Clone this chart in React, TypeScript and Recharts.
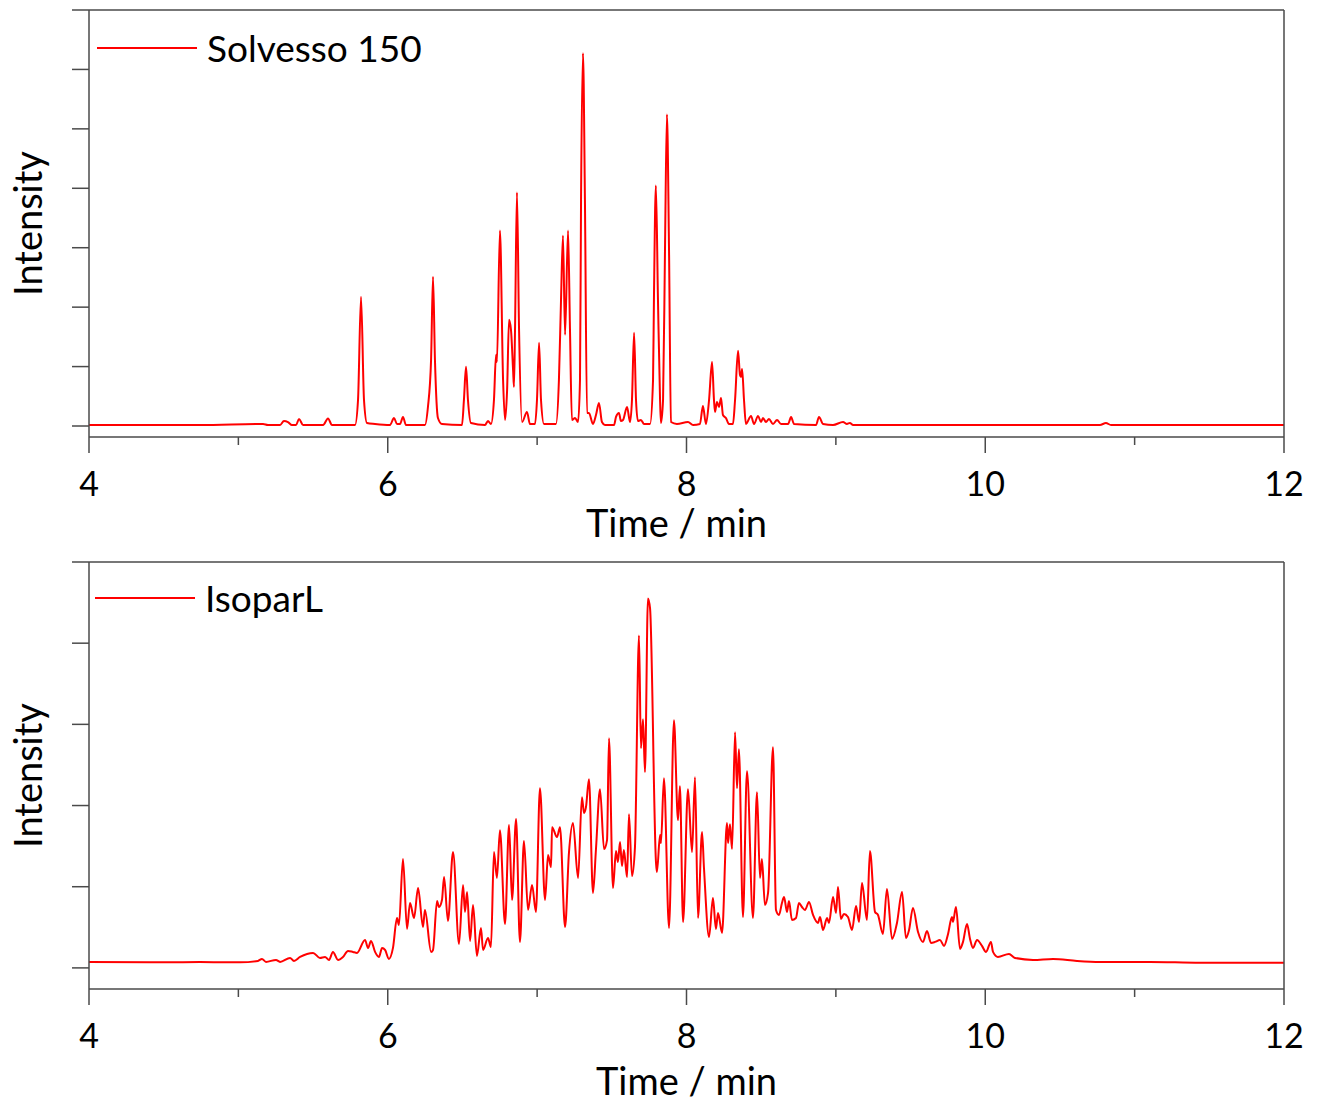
import React from 'react';
import { LineChart, Line, XAxis, YAxis, Legend } from 'recharts';

// ---- Data ----
const xTicks = [4, 5, 6, 7, 8, 9, 10, 11, 12];
const solvessoYTicks = [0, 1, 2, 3, 4, 5, 6, 7];
const isoparYTicks = [0, 1, 2, 3, 4, 5];

const solvessoTime = [
  4.0, 4.743, 5.165, 5.198, 5.279, 5.305, 5.332, 5.359, 5.386, 5.406, 5.433, 5.567, 5.6, 5.627,
  5.781, 5.801, 5.821, 5.841, 5.861, 5.915, 6.015, 6.042, 6.062, 6.082, 6.102, 6.122,
  6.249, 6.269, 6.29, 6.303, 6.316, 6.336, 6.363, 6.497, 6.51, 6.524, 6.537, 6.557,
  6.651, 6.671, 6.691, 6.711, 6.725, 6.731, 6.751, 6.772, 6.785, 6.799, 6.812, 6.825, 6.839, 6.845,
  6.852, 6.865, 6.879, 6.899, 6.932, 6.952, 6.986, 6.999, 7.013, 7.026, 7.046,
  7.126, 7.146, 7.16, 7.173, 7.187, 7.207, 7.22, 7.233, 7.254, 7.274, 7.287, 7.294, 7.307, 7.32,
  7.334, 7.347, 7.374, 7.394, 7.414, 7.434, 7.454, 7.515, 7.528, 7.548, 7.561, 7.575, 7.602, 7.622,
  7.635, 7.649, 7.662, 7.675, 7.695, 7.716, 7.756, 7.776, 7.782, 7.795, 7.809, 7.823, 7.829,
  7.843, 7.856, 7.869, 7.883, 7.896, 7.936, 8.01, 8.044, 8.09, 8.11, 8.13, 8.151, 8.171, 8.184,
  8.191, 8.204, 8.218, 8.231, 8.244, 8.264, 8.284, 8.311, 8.325, 8.345, 8.358, 8.365, 8.372, 8.385,
  8.398, 8.432, 8.452, 8.479, 8.499, 8.512, 8.532, 8.552, 8.579, 8.606, 8.633, 8.68, 8.7, 8.72,
  8.867, 8.887, 8.914, 8.981, 9.048, 9.074, 9.094, 9.115, 10.768, 10.808, 10.842, 12.0,
];
const solvessoIntensity = [
  0.017, 0.017, 0.034, 0.017, 0.017, 0.084, 0.067, 0.017, 0.017, 0.118, 0.017, 0.017, 0.126, 0.017,
  0.017, 0.438, 2.175, 0.438, 0.051, 0.034, 0.017, 0.135, 0.034, 0.034, 0.152, 0.017,
  0.017, 0.32, 1.113, 2.512, 1.113, 0.135, 0.034, 0.017, 0.438, 0.995, 0.438, 0.051,
  0.017, 0.084, 0.034, 0.438, 1.197, 1.079, 3.288, 0.776, 0.101, 0.607, 1.787, 1.619, 0.944, 0.658,
  1.619, 3.928, 1.619, 0.067, 0.236, 0.034, 0.034, 0.438, 1.399, 0.438, 0.034,
  0.034, 0.776, 2.124, 3.203, 1.534, 3.288, 1.619, 0.101, 0.135, 0.067, 0.776, 3.81, 6.272, 3.81,
  0.219, 0.219, 0.034, 0.185, 0.388, 0.067, 0.017, 0.017, 0.152, 0.219, 0.084, 0.101, 0.32, 0.067,
  0.438, 1.568, 0.438, 0.084, 0.101, 0.034, 0.034, 0.776, 2.124, 4.046, 2.124, 0.438, 0.051,
  0.438, 2.967, 5.243, 2.967, 0.067, 0.034, 0.067, 0.017, 0.034, 0.337, 0.034, 0.438, 1.079, 0.438,
  0.236, 0.405, 0.32, 0.472, 0.185, 0.135, 0.034, 0.034, 0.438, 1.265, 0.86, 0.826, 0.961, 0.438,
  0.034, 0.169, 0.034, 0.169, 0.067, 0.135, 0.067, 0.118, 0.034, 0.101, 0.034, 0.034, 0.152, 0.034,
  0.017, 0.152, 0.034, 0.017, 0.067, 0.034, 0.051, 0.017, 0.017, 0.051, 0.017, 0.017,
];

const isoparTime = [
  4.0, 4.408, 4.743, 5.011, 5.131, 5.158, 5.185, 5.252, 5.279, 5.346, 5.372, 5.413, 5.5, 5.546,
  5.58, 5.607, 5.633, 5.667, 5.7, 5.734, 5.767, 5.794, 5.848, 5.868, 5.888, 5.915, 5.941, 5.962,
  5.982, 6.008, 6.035, 6.062, 6.075, 6.102, 6.129, 6.149, 6.176, 6.203, 6.236, 6.249, 6.29, 6.303,
  6.33, 6.343, 6.363, 6.377, 6.403, 6.437, 6.477, 6.504, 6.517, 6.531, 6.551, 6.571, 6.597, 6.624,
  6.638, 6.671, 6.691, 6.711, 6.731, 6.751, 6.785, 6.812, 6.832, 6.859, 6.885, 6.912, 6.939, 6.966,
  6.992, 7.019, 7.053, 7.073, 7.093, 7.1, 7.133, 7.153, 7.187, 7.213, 7.24, 7.274, 7.3, 7.314,
  7.327, 7.347, 7.374, 7.394, 7.421, 7.448, 7.468, 7.481, 7.508, 7.528, 7.541, 7.555, 7.568, 7.581,
  7.602, 7.615, 7.635, 7.655, 7.682, 7.695, 7.709, 7.722, 7.742, 7.756, 7.796, 7.802, 7.823, 7.829,
  7.849, 7.883, 7.916, 7.943, 7.956, 7.977, 8.01, 8.037, 8.057, 8.077, 8.104, 8.117, 8.151, 8.177,
  8.197, 8.211, 8.238, 8.271, 8.278, 8.291, 8.305, 8.325, 8.338, 8.351, 8.378, 8.405, 8.445, 8.472,
  8.492, 8.505, 8.525, 8.546, 8.579, 8.599, 8.619, 8.639, 8.653, 8.673, 8.686, 8.706, 8.733, 8.753,
  8.773, 8.793, 8.82, 8.847, 8.88, 8.894, 8.914, 8.941, 8.954, 8.981, 9.001, 9.014, 9.034, 9.054,
  9.081, 9.108, 9.135, 9.155, 9.175, 9.208, 9.228, 9.262, 9.282, 9.315, 9.342, 9.376, 9.409, 9.443,
  9.469, 9.49, 9.516, 9.55, 9.583, 9.61, 9.637, 9.664, 9.697, 9.724, 9.751, 9.777, 9.784, 9.804,
  9.831, 9.851, 9.878, 9.898, 9.918, 9.945, 9.978, 10.005, 10.038, 10.052, 10.085, 10.159, 10.199,
  10.32, 10.454, 10.614, 10.768, 11.103, 11.438, 12.0,
];
const isoparIntensity = [
  0.074, 0.068, 0.074, 0.068, 0.086, 0.111, 0.074, 0.098, 0.074, 0.123, 0.086, 0.135, 0.185, 0.123,
  0.135, 0.098, 0.197, 0.098, 0.135, 0.209, 0.197, 0.185, 0.344, 0.246, 0.332, 0.197, 0.135, 0.246,
  0.221, 0.111, 0.246, 0.615, 0.529, 1.34, 0.48, 0.8, 0.615, 0.984, 0.504, 0.713, 0.197, 0.221,
  0.824, 0.75, 0.836, 1.119, 0.578, 1.427, 0.295, 1.021, 0.689, 0.935, 0.332, 0.775, 0.148, 0.492,
  0.221, 0.369, 0.258, 1.427, 1.107, 1.697, 0.541, 1.759, 0.836, 1.833, 0.32, 1.562, 0.713, 1.021,
  0.689, 2.214, 0.836, 1.39, 1.242, 1.734, 1.611, 1.734, 0.504, 1.415, 1.784, 1.107, 2.103, 1.907,
  1.98, 2.325, 0.923, 1.464, 2.202, 1.464, 1.574, 2.829, 0.984, 1.439, 1.304, 1.55, 1.255, 1.451,
  1.119, 1.894, 1.132, 1.488, 4.096, 2.706, 3.063, 2.411, 4.551, 4.428, 1.292, 1.181, 1.636, 1.538,
  2.337, 0.492, 3.05, 1.82, 2.239, 0.566, 2.202, 1.427, 2.349, 0.615, 1.673, 1.23, 0.381, 0.861,
  0.48, 0.677, 0.431, 1.784, 1.538, 1.771, 1.464, 2.903, 2.214, 2.694, 0.627, 2.423, 0.615, 2.165,
  1.107, 1.341, 0.775, 0.923, 2.718, 0.713, 0.652, 0.8, 0.873, 0.689, 0.824, 0.59, 0.615, 0.8,
  0.75, 0.713, 0.812, 0.652, 0.554, 0.627, 0.467, 0.615, 0.554, 0.873, 0.677, 0.996, 0.603, 0.664,
  0.627, 0.467, 0.763, 0.566, 1.046, 0.59, 1.439, 0.689, 0.652, 0.418, 0.972, 0.357, 0.554, 0.935,
  0.369, 0.467, 0.738, 0.443, 0.32, 0.455, 0.308, 0.32, 0.344, 0.271, 0.418, 0.627, 0.566, 0.75,
  0.234, 0.32, 0.541, 0.357, 0.246, 0.344, 0.271, 0.197, 0.32, 0.197, 0.135, 0.172, 0.123,
  0.098, 0.111, 0.086, 0.074, 0.074, 0.062, 0.062,
];

const solvessoData = solvessoTime.map((t, i) => ({ t, v: solvessoIntensity[i] }));
const isoparData = isoparTime.map((t, i) => ({ t, v: isoparIntensity[i] }));

// ---- Styles ----
const FONT = 'Lato, "Open Sans", sans-serif';
const AXIS = '#4a4a4a';
const RED = '#ff0000';

function XTick(props: any) {
  const { x, y, payload } = props;
  const v = payload.value;
  const major = v % 2 === 0;
  return (
    <g>
      <line x1={x} x2={x} y1={y} y2={y + (major ? 16 : 8)} stroke={AXIS} strokeWidth={1.5} />
      {major && (
        <text x={x} y={y + 59} textAnchor="middle" fontFamily={FONT} fontSize={34} fill="#000">
          {v}
        </text>
      )}
    </g>
  );
}

function YTick(props: any) {
  const { x, y } = props;
  return <line x1={x - 17} x2={x} y1={y} y2={y} stroke={AXIS} strokeWidth={1.5} />;
}

function NoTick() {
  return <g />;
}

function LegendBox(props: any) {
  const item = props.payload && props.payload[0];
  return (
    <div style={{ display: 'flex', alignItems: 'center', fontFamily: FONT, fontSize: 37, color: '#000', lineHeight: '46px', whiteSpace: 'nowrap' }}>
      <svg width={100} height={4} style={{ display: 'block' }}>
        <line x1={0} y1={2} x2={100} y2={2} stroke={RED} strokeWidth={2} />
      </svg>
      <span style={{ marginLeft: 10 }}>{item ? item.value : ''}</span>
    </div>
  );
}

type PanelProps = {
  data: { t: number; v: number }[];
  name: string;
  yDomain: [number, number];
  yTicks: number[];
  height: number;
  xLabelDx: number;
  xLabelOffset: number;
  legendTop: number;
  legendLeft: number;
};

function Panel({ data, name, yDomain, yTicks, height, xLabelDx, xLabelOffset, legendTop, legendLeft }: PanelProps) {
  return (
    <LineChart width={1318} height={height} data={data} margin={{ top: 9, right: 33, bottom: 0, left: 0 }}>
      <XAxis
        dataKey="t"
        type="number"
        domain={[4, 12]}
        ticks={xTicks}
        interval={0}
        allowDataOverflow
        tick={<XTick />}
        tickLine={false}
        tickSize={0}
        tickMargin={0}
        axisLine={{ stroke: AXIS, strokeWidth: 1.5 }}
        height={height - 437}
        label={{ value: 'Time / min', position: 'insideBottom', offset: xLabelOffset, dx: xLabelDx, fontFamily: FONT, fontSize: 38, fill: '#000' }}
      />
      <XAxis
        xAxisId="top"
        orientation="top"
        type="number"
        domain={[4, 12]}
        ticks={[4, 12]}
        height={1}
        tick={<NoTick />}
        tickLine={false}
        tickSize={0}
        axisLine={{ stroke: AXIS, strokeWidth: 1.5 }}
      />
      <YAxis
        type="number"
        domain={yDomain}
        ticks={yTicks}
        interval={0}
        allowDataOverflow
        tick={<YTick />}
        tickLine={false}
        tickSize={0}
        tickMargin={0}
        axisLine={{ stroke: AXIS, strokeWidth: 1.5 }}
        width={89}
        label={{ value: 'Intensity', angle: -90, position: 'center', dx: -16, fontFamily: FONT, fontSize: 38, fill: '#000' }}
      />
      <YAxis
        yAxisId="r"
        orientation="right"
        type="number"
        domain={[0, 1]}
        ticks={[0, 1]}
        width={1}
        tick={<NoTick />}
        tickLine={false}
        tickSize={0}
        axisLine={{ stroke: AXIS, strokeWidth: 1.5 }}
      />
      <Legend
        layout="vertical"
        align="center"
        verticalAlign="middle"
        content={<LegendBox />}
        wrapperStyle={{ top: legendTop, left: legendLeft, width: 'auto' }}
      />
      <Line
        dataKey="v"
        name={name}
        type="monotone"
        stroke={RED}
        strokeWidth={2}
        dot={false}
        activeDot={false}
        isAnimationActive={false}
      />
    </LineChart>
  );
}

export default function App() {
  return (
    <div style={{ position: 'absolute', left: 0, top: 0, width: 1318, height: 1103, background: '#fff' }}>
      <div style={{ position: 'absolute', left: 0, top: 0 }}>
        <Panel data={solvessoData} name="Solvesso 150" yDomain={[-0.185, 7]} yTicks={solvessoYTicks} height={552} xLabelDx={-10} xLabelOffset={15} legendTop={25} legendLeft={97} />
      </div>
      <div style={{ position: 'absolute', left: 0, top: 552 }}>
        <Panel data={isoparData} name="IsoparL" yDomain={[-0.26, 5]} yTicks={isoparYTicks} height={551} xLabelDx={0} xLabelOffset={8} legendTop={23} legendLeft={95} />
      </div>
    </div>
  );
}
